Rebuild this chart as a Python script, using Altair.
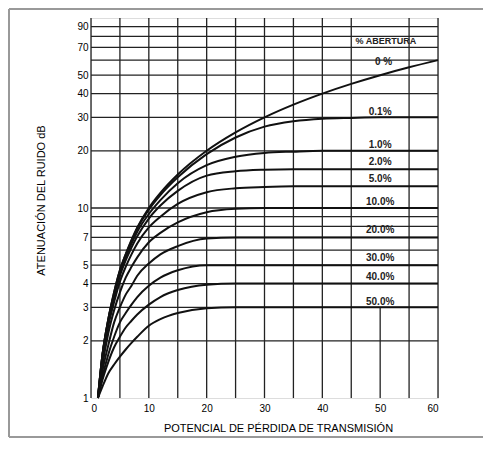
import altair as alt
import pandas as pd

# potential transmission loss (x) sampled points
x_vals = [1.2, 2, 3, 4, 5, 6, 7, 8, 10, 12, 15, 20, 25, 30, 35, 40, 45, 50, 55, 60]

# noise attenuation (dB) read for each % opening
s_0   = [1.0, 1.7, 2.6, 3.6, 4.7, 5.7, 6.8, 7.9, 10.0, 12.0, 15.0, 20.0, 25.0, 30.0, 35.0, 40.0, 45.0, 50.0, 55.0, 60.0]
s_01  = [1.0, 1.7, 2.6, 3.6, 4.7, 5.7, 6.7, 7.8, 9.8, 11.7, 14.5, 19.2, 23.5, 26.8, 28.6, 29.5, 29.8, 30.0, 30.0, 30.0]
s_1   = [1.0, 1.7, 2.6, 3.5, 4.6, 5.5, 6.5, 7.5, 9.3, 11.0, 13.5, 16.8, 18.6, 19.5, 19.8, 20.0, 20.0, 20.0, 20.0, 20.0]
s_2   = [1.0, 1.7, 2.5, 3.4, 4.4, 5.3, 6.2, 7.1, 8.8, 10.3, 12.3, 14.8, 15.6, 15.9, 16.0, 16.0, 16.0, 16.0, 16.0, 16.0]
s_5   = [1.0, 1.6, 2.4, 3.2, 4.1, 4.9, 5.7, 6.5, 7.9, 9.0, 10.5, 12.1, 12.7, 12.9, 13.0, 13.0, 13.0, 13.0, 13.0, 13.0]
s_10  = [1.0, 1.5, 2.2, 2.9, 3.6, 4.3, 4.9, 5.5, 6.6, 7.4, 8.4, 9.5, 9.9, 10.0, 10.0, 10.0, 10.0, 10.0, 10.0, 10.0]
s_20  = [1.0, 1.4, 1.9, 2.5, 3.0, 3.5, 3.9, 4.4, 5.1, 5.7, 6.3, 6.9, 7.0, 7.0, 7.0, 7.0, 7.0, 7.0, 7.0, 7.0]
s_30  = [1.0, 1.3, 1.7, 2.1, 2.5, 2.8, 3.1, 3.4, 3.9, 4.3, 4.7, 5.0, 5.0, 5.0, 5.0, 5.0, 5.0, 5.0, 5.0, 5.0]
s_40  = [1.0, 1.25, 1.55, 1.85, 2.1, 2.35, 2.55, 2.75, 3.1, 3.4, 3.7, 3.95, 4.0, 4.0, 4.0, 4.0, 4.0, 4.0, 4.0, 4.0]
s_50  = [1.0, 1.15, 1.35, 1.5, 1.65, 1.8, 1.95, 2.1, 2.4, 2.6, 2.8, 2.97, 3.0, 3.0, 3.0, 3.0, 3.0, 3.0, 3.0, 3.0]

series_names = ["0 %", "0.1%", "1.0%", "2.0%", "5.0%", "10.0%", "20.0%", "30.0%", "40.0%", "50.0%"]
series_vals = [s_0, s_01, s_1, s_2, s_5, s_10, s_20, s_30, s_40, s_50]

# labels for the curves
lab_text = ["% ABERTURA", "0 %", "0.1%", "1.0%", "2.0%", "5.0%", "10.0%", "20.0%", "30.0%", "40.0%", "50.0%"]
lab_x = [51.0, 50.6, 50, 50, 50, 50, 50, 50, 50, 50, 50]
lab_y = [75.7, 58.7, 32.0, 21.5, 17.5, 14.2, 10.8, 7.66, 5.46, 4.33, 3.2]
lab_size = [9, 10, 10, 10, 10, 10, 10, 10, 10, 10, 10]

# grid
vgrid_x = [0, 5, 10, 15, 20, 25, 30, 35, 40, 45, 50, 55, 60]
vgrid_top = [100, 100, 100, 100, 100, 100, 100, 100, 100, 100, 3, 100, 100]
hgrid_y = [2, 3, 4, 5, 6, 7, 8, 9, 10, 20, 30, 40, 50, 60, 70, 80, 90]

x_ticks = [0, 10, 20, 30, 40, 50, 60]
y_ticks = [1, 2, 3, 4, 5, 7, 10, 20, 30, 40, 50, 70, 90]

rows = []
for name, vals in zip(series_names, series_vals):
    for xv, yv in zip(x_vals, vals):
        rows.append({"serie": name, "x": xv, "y": yv})
df = pd.DataFrame(rows)

df_lab = pd.DataFrame({"t": lab_text, "x": lab_x, "y": lab_y, "s": lab_size})
df_v = pd.DataFrame({"x": vgrid_x, "top": vgrid_top, "bot": [1] * len(vgrid_x)})
df_h = pd.DataFrame({"y": hgrid_y})

FONT = "Liberation Sans"
W, H = 347, 380

xs = alt.Scale(domain=[0, 60], nice=False, zero=False)
ys = alt.Scale(type="log", domain=[1, 100], nice=False)

one = pd.DataFrame({"a": [0]})
frame_style = dict(color="#999999", strokeWidth=2)
frame_top = alt.Chart(one).mark_rule(**frame_style).encode(
    x=alt.value(-82), x2=alt.value(392), y=alt.value(-9))
frame_left = alt.Chart(one).mark_rule(**frame_style).encode(
    x=alt.value(-82), y=alt.value(-9), y2=alt.value(419))
frame_bottom = alt.Chart(one).mark_rule(**frame_style).encode(
    x=alt.value(-82), x2=alt.value(392), y=alt.value(419))

vgrid = alt.Chart(df_v).mark_rule(color="#222", strokeWidth=1.3).encode(
    x=alt.X("x:Q", scale=xs),
    y=alt.Y("bot:Q", scale=ys),
    y2="top:Q",
)
hgrid = alt.Chart(df_h).mark_rule(color="#222", strokeWidth=1.3).encode(
    y=alt.Y("y:Q", scale=ys)
)

lines = alt.Chart(df).mark_line(color="#111", strokeWidth=2, interpolate="monotone").encode(
    x=alt.X("x:Q", scale=xs,
            axis=alt.Axis(values=x_ticks, title="POTENCIAL DE PÉRDIDA DE TRANSMISIÓN",
                          grid=False, ticks=False, domain=False, labelPadding=5,
                          titlePadding=9, titleX=187, titleFontWeight=400)),
    y=alt.Y("y:Q", scale=ys,
            axis=alt.Axis(values=y_ticks, format="d", title="ATENUACIÓN DEL RUIDO dB",
                          grid=False, ticks=False, domain=False, labelPadding=3,
                          titlePadding=30, titleY=182, titleFontWeight=400)),
    detail="serie:N",
)

labels = alt.Chart(df_lab).mark_text(
    font=FONT, fontWeight="bold", color="#222", baseline="middle", align="center"
).encode(
    x=alt.X("x:Q", scale=xs),
    y=alt.Y("y:Q", scale=ys),
    text="t:N",
    size=alt.Size("s:Q", scale=None, legend=None),
)

chart = alt.layer(frame_top, frame_left, frame_bottom, vgrid, hgrid, lines, labels).properties(
    width=W, height=H,
    autosize=alt.AutoSizeParams(type="none"),
    padding={"left": 83, "top": 10, "right": 48, "bottom": 40},
).configure_view(
    stroke="#111", strokeWidth=1.5
).configure_axis(
    labelFont=FONT, labelFontSize=11, labelFontWeight="bold", labelColor="#333",
    titleFont=FONT, titleFontSize=14, titleColor="#333",
).configure(background="white")

chart.save("out.html", embed_options={"renderer": "svg", "actions": False})
